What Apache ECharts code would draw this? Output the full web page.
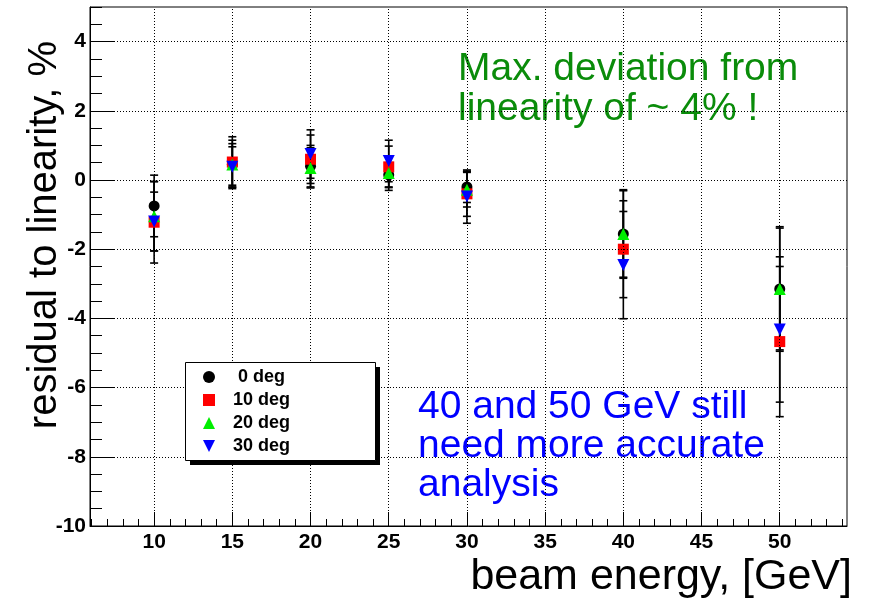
<!DOCTYPE html>
<html>
<head>
<meta charset="utf-8">
<script src="https://cdn.jsdelivr.net/npm/echarts@6/dist/echarts.min.js"></script>
<style>
html,body{margin:0;padding:0;background:#fff;}
#chart{width:870px;height:601px;}
</style>
</head>
<body>
<div id="chart"></div>
<script>
// ---- data ----
const energies = [10, 15, 20, 25, 30, 40, 50];
const deg0  = [-0.75, 0.45, 0.40, 0.15, -0.20, -1.56, -3.15];
const deg10 = [-1.22, 0.52, 0.60, 0.38, -0.40, -2.00, -4.67];
const deg20 = [-1.05, 0.45, 0.35, 0.20, -0.28, -1.56, -3.15];
const deg30 = [-1.20, 0.38, 0.75, 0.55, -0.48, -2.46, -4.32];
const err0  = [0.89, 0.70, 0.60, 0.35, 0.45, 1.25, 1.80];
const err10 = [1.18, 0.73, 0.70, 0.60, 0.65, 1.40, 2.17];
const err20 = [1.00, 0.60, 0.58, 0.50, 0.50, 1.28, 1.76];
const err30 = [0.85, 0.58, 0.70, 0.60, 0.77, 1.55, 2.10];
const seriesNames = ['0 deg', '10 deg', '20 deg', '30 deg'];

const xMajorTicks = [10, 15, 20, 25, 30, 35, 40, 45, 50];
const xMinorTicks = [6,7,8,9,10,11,12,13,14,15,16,17,18,19,20,21,22,23,24,25,26,27,28,29,30,31,32,33,34,35,36,37,38,39,40,41,42,43,44,45,46,47,48,49,50,51,52,53,54];
const yMajorTicks = [-10, -8, -6, -4, -2, 0, 2, 4];
const yMinorTicks = [-10,-9.5,-9,-8.5,-8,-7.5,-7,-6.5,-6,-5.5,-5,-4.5,-4,-3.5,-3,-2.5,-2,-1.5,-1,-0.5,0,0.5,1,1.5,2,2.5,3,3.5,4,4.5,5];
const xGridLines = [10, 15, 20, 25, 30, 35, 40, 45, 50];
const yGridLines = [-8, -6, -4, -2, 0, 2, 4];

const xTitle = 'beam energy, [GeV]';
const yTitle = 'residual to linearity, %';
const noteGreen = ['Max. deviation from', 'linearity of ~ 4% !'];
const noteBlue = ['40 and 50 GeV still', 'need more accurate', 'analysis'];

// ---- styling ----
const FONT = '"Liberation Sans", Arial, Helvetica, sans-serif';
const NARROW = '"Liberation Sans Narrow", "Arial Narrow", "Liberation Sans", Arial, sans-serif';
const XMIN = 5.9, XMAX = 54.3, YMIN = -10, YMAX = 5;
const colors = ['#000000', '#ff0000', '#00ee00', '#0000ff'];
const symbols = ['circle', 'rect', 'triangle', 'triangle'];
const legendIcons = ['circle', 'rect', 'triangle', 'path://M0,0 L10,0 L5,10 Z'];
const rotates = [0, 0, 0, 180];
const sizes = [11, 11, 12, 12];

const values = [deg0, deg10, deg20, deg30];
const errs = [err0, err10, err20, err30];

const chart = echarts.init(document.getElementById('chart'), null, {renderer: 'canvas'});

function errRender(params, api) {
  const x = api.value(0), y = api.value(1), e = api.value(2);
  const t = api.coord([x, y + e]);
  const b = api.coord([x, y - e]);
  const h = 4;
  const st = {stroke: '#000', lineWidth: 1.6};
  return {
    type: 'group',
    children: [
      {type: 'line', shape: {x1: t[0], y1: t[1], x2: b[0], y2: b[1]}, style: st},
      {type: 'line', shape: {x1: t[0] - h, y1: t[1], x2: t[0] + h, y2: t[1]}, style: st},
      {type: 'line', shape: {x1: b[0] - h, y1: b[1], x2: b[0] + h, y2: b[1]}, style: st}
    ]
  };
}

const series = [];
// grid lines
series.push({
  type: 'scatter', data: [], xAxisIndex: 0, yAxisIndex: 0, silent: true, z: 1,
  markLine: {
    silent: true, symbol: ['none', 'none'], label: {show: false}, animation: false,
    lineStyle: {color: '#000', width: 1, type: [1, 2]},
    emphasis: {disabled: true},
    data: xGridLines.map(v => ({xAxis: v})).concat(yGridLines.map(v => ({yAxis: v})))
  }
});
// error bars
values.forEach((vals, k) => {
  series.push({
    type: 'custom', name: seriesNames[k] + ' err', xAxisIndex: 0, yAxisIndex: 0, z: 2,
    renderItem: errRender, encode: {x: 0, y: 1},
    data: energies.map((x, i) => [x, vals[i], errs[k][i]]),
    silent: true
  });
});
// markers
values.forEach((vals, k) => {
  series.push({
    type: 'scatter', name: seriesNames[k], xAxisIndex: 0, yAxisIndex: 0, z: 3 + k,
    symbol: symbols[k], symbolRotate: rotates[k], symbolSize: sizes[k],
    itemStyle: {color: colors[k], opacity: 1},
    data: energies.map((x, i) => [x, vals[i]])
  });
});

const axisCommonX = {type: 'value', min: XMIN, max: XMAX, position: 'bottom', splitLine: {show: false}};
const axisCommonY = {type: 'value', min: YMIN, max: YMAX, position: 'left', splitLine: {show: false}};

const option = {
  animation: false,
  backgroundColor: '#fff',
  grid: {left: 90, right: 23, top: 7, bottom: 75, show: true, borderColor: '#000', borderWidth: 1, backgroundColor: 'transparent'},
  xAxis: [
    Object.assign({}, axisCommonX, {
      axisLine: {show: true, onZero: false, lineStyle: {color: '#000', width: 1}},
      axisTick: {show: true, inside: true, length: 7, customValues: xMinorTicks, lineStyle: {color: '#000', width: 1}},
      axisLabel: {show: false}
    }),
    Object.assign({}, axisCommonX, {
      axisLine: {show: false, onZero: false},
      axisTick: {show: true, inside: true, length: 14, customValues: xMajorTicks, lineStyle: {color: '#000', width: 1}},
      axisLabel: {show: true, customValues: xMajorTicks, margin: 6, color: '#000', fontFamily: NARROW, fontWeight: 'bold', fontSize: 21}
    })
  ],
  yAxis: [
    Object.assign({}, axisCommonY, {
      axisLine: {show: true, onZero: false, lineStyle: {color: '#000', width: 1}},
      axisTick: {show: true, inside: true, length: 12, customValues: yMinorTicks, lineStyle: {color: '#000', width: 1}},
      axisLabel: {show: false}
    }),
    Object.assign({}, axisCommonY, {
      axisLine: {show: false, onZero: false},
      axisTick: {show: true, inside: true, length: 24, customValues: yMajorTicks, lineStyle: {color: '#000', width: 1}},
      axisLabel: {show: true, customValues: yMajorTicks, margin: 4, color: '#000', fontFamily: NARROW, fontWeight: 'bold', fontSize: 21}
    })
  ],
  legend: {
    data: seriesNames.map((n, k) => ({name: n, icon: legendIcons[k]})),
    orient: 'vertical',
    left: 203, top: 368,
    padding: 0,
    itemWidth: 12, itemHeight: 12, itemGap: 5,
    z: 20,
    selectedMode: false,
    formatter: n => (n.length < 6 ? ' ' + n : n),
    textStyle: {color: '#000', fontFamily: FONT, fontWeight: 'bold', fontSize: 18, padding: [0, 0, 0, 13]}
  },
  graphic: [
    {type: 'rect', z: 15, shape: {x: 190, y: 367, width: 190, height: 98}, style: {fill: '#000'}},
    {type: 'rect', z: 16, shape: {x: 185.5, y: 362.5, width: 190, height: 98}, style: {fill: '#fff', stroke: '#000', lineWidth: 1}},
    {type: 'text', x: 45, y: 235, rotation: Math.PI / 2, style: {text: yTitle, font: '40px ' + FONT, fill: '#000', align: 'center', verticalAlign: 'middle'}},
    {type: 'text', x: 852, y: 577, style: {text: xTitle, font: '43px ' + FONT, fill: '#000', align: 'right', verticalAlign: 'middle'}}
  ].concat(noteGreen.map((t, i) => ({
    type: 'text', x: 458, y: 69 + i * 40, style: {text: t, font: '39px ' + FONT, fill: '#0a8c0a', align: 'left', verticalAlign: 'middle'}
  }))).concat(noteBlue.map((t, i) => ({
    type: 'text', x: 418, y: 407 + i * 39, style: {text: t, font: '39px ' + FONT, fill: '#0000ff', align: 'left', verticalAlign: 'middle'}
  }))),
  series: series
};
chart.setOption(option);
</script>
</body>
</html>
